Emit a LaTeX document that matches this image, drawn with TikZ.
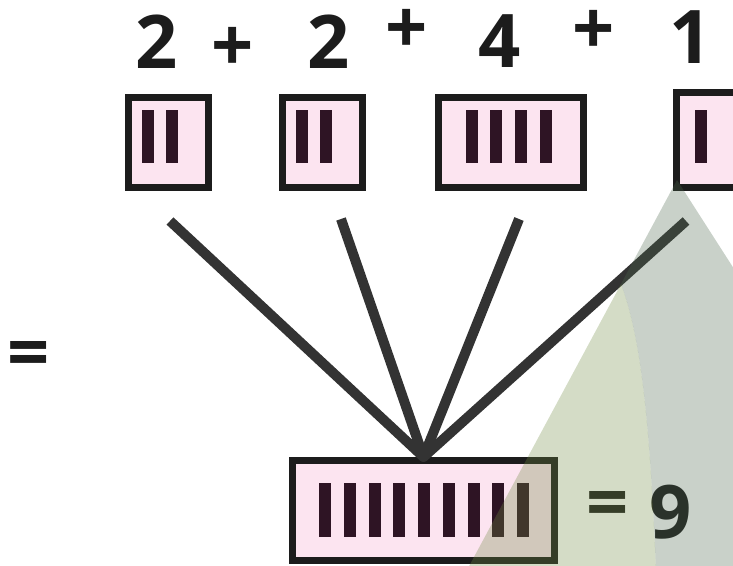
\documentclass[tikz,border=0pt]{standalone}
\usepackage{fontspec}
\setmainfont{Open Sans}
\definecolor{ink}{HTML}{1C1C1C}
\definecolor{frame}{HTML}{1C1C1C}
\definecolor{blush}{HTML}{FCE4F0}
\definecolor{barcol}{HTML}{2E1424}
\definecolor{wire}{HTML}{333333}
\definecolor{leaf}{RGB}{112,138,65}
\definecolor{shade}{RGB}{75,102,75}
\begin{document}
\begin{tikzpicture}[x=1pt,y=-1pt,
  numtxt/.style={font=\fontsize{74}{80}\selectfont\bfseries, text=ink, inner sep=0pt},
  tally/.style={draw=frame, fill=blush, line width=7pt, inner sep=0pt, rectangle},
  stroke/.style={fill=barcol},
  spoke/.style={draw=wire, line width=10pt, line join=round, line cap=butt},
  glow/.style={fill=leaf, fill opacity=0.3},
  dusk/.style={fill=shade, fill opacity=0.3}
]
\useasboundingbox (0,0) rectangle (733,565);
\clip (0,0) rectangle (733,565);

% addends written above the boxes
\node[numtxt, anchor=base] (n1) at (157,68) {2};
\node[numtxt] (p1) at (233,49) {+};
\node[numtxt, anchor=base] (n2) at (329,68) {2};
\node[numtxt] (p2) at (407,31) {+};
\node[numtxt, anchor=base] (n3) at (500,67) {4};
\node[numtxt] (p3) at (594,32) {+};
\node[numtxt, anchor=base] (n4) at (691,63) {1};

% tally boxes of the addends
\node[tally, minimum width=80pt, minimum height=90pt] (b1) at (168.5,142.5) {};
\node[tally, minimum width=80pt, minimum height=90pt] (b2) at (322.5,142.5) {};
\node[tally, minimum width=145pt, minimum height=90pt] (b3) at (511,142.5) {};
\node[tally, minimum width=65pt, minimum height=95pt] (b4) at (709,140) {};
\foreach \x in {142,166,296,320,466,490,515,540,695}
  \fill[stroke] (\x,110) rectangle ++(12,53);

% box of the total
\node[tally, minimum width=262pt, minimum height=100pt] (sum) at (423.5,510.5) {};
\foreach \i in {0,...,8}
  \fill[stroke] ({319+24.75*\i},483) rectangle ++(12,54);

% spokes gathering the addends into the total
\coordinate (s1) at (170,221);
\coordinate (s2) at (341,219);
\coordinate (s3) at (519,219);
\coordinate (s4) at (686,221);
\draw[spoke] (s1) -- (sum.north) -- (s4);
\draw[spoke] (s2) -- (sum.north) -- (s3);

% equals signs and result
\node[numtxt] (eqleft) at (28.5,360) {=};
\node[numtxt] (eqright) at (608,510) {=};
\node[numtxt, anchor=base] (res) at (671,538) {9};

% translucent light wedge in the lower right
\fill[glow] (621,284) -- (467,570) -- (656,570)
  .. controls (650,430) and (642,340) .. (621,284) -- cycle;
\fill[dusk] (677,180) -- (745,286) -- (745,570) -- (656,570)
  .. controls (650,430) and (642,340) .. (621,284) -- cycle;
\end{tikzpicture}
\end{document}
